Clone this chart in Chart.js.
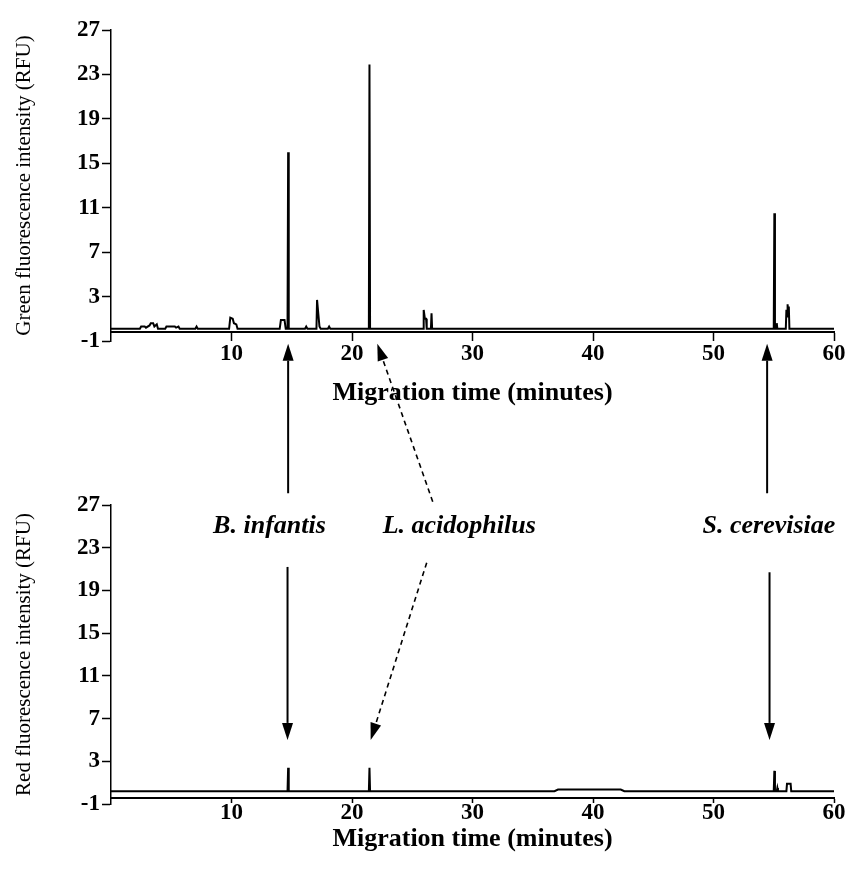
<!DOCTYPE html>
<html>
<head>
<meta charset="utf-8">
<script src="https://cdn.jsdelivr.net/npm/chart.js@4.4.1/dist/chart.umd.min.js"></script>
<style>
  html, body { margin: 0; padding: 0; background: #fff; }
  #wrap { position: relative; width: 849px; height: 877px; overflow: hidden; }
  #greenChart { position: absolute; left: 0; top: 0; }
  #redChart { position: absolute; left: 0; top: 340px; }
</style>
</head>
<body>
<div id="wrap">
  <canvas id="greenChart" width="849" height="430"></canvas>
  <canvas id="redChart" width="849" height="537"></canvas>
</div>
<script>
// green trace (minutes / RFU)
const greenTime = [
  0, 2.4, 2.5, 2.8, 2.9, 3.2, 3.3, 3.5, 3.6, 3.8, 3.9,
  4.5, 4.6, 5.3, 5.4, 5.6, 5.7,
  7.0, 7.1, 7.2,
  9.8, 9.9, 10.1, 10.2, 10.4, 10.5,
  14.0, 14.1, 14.4, 14.5, 14.65, 14.7, 14.75,
  16.1, 16.2, 16.3,
  17.05, 17.1, 17.2, 17.3, 17.4,
  18.0, 18.1, 18.2,
  21.4, 21.45, 21.5,
  25.9, 25.95, 26.05, 26.15, 26.2,
  26.55, 26.6, 26.65,
  55.0, 55.05, 55.1, 55.2, 55.25, 55.3,
  56.0, 56.05, 56.1, 56.15, 56.2, 56.25, 56.3, 60
];
const greenRFU = [
  0.1, 0.1, 0.3, 0.3, 0.2, 0.4, 0.6, 0.6, 0.3, 0.5, 0.1,
  0.1, 0.3, 0.3, 0.2, 0.3, 0.1,
  0.1, 0.3, 0.1,
  0.1, 1.1, 1.0, 0.6, 0.5, 0.1,
  0.1, 0.9, 0.9, 0.1, 0.1, 16.0, 0.1,
  0.1, 0.3, 0.1,
  0.1, 2.7, 1.5, 0.3, 0.1,
  0.1, 0.3, 0.1,
  0.1, 23.9, 0.1,
  0.1, 1.8, 1.0, 1.0, 0.1,
  0.1, 1.5, 0.1,
  0.1, 10.5, 0.1, 0.1, 0.6, 0.1,
  0.1, 1.8, 1.2, 2.3, 1.5, 2.1, 0.1, 0.1
];

// red trace, lower panel
const redTime = [
  0, 14.65, 14.7, 14.75,
  21.4, 21.45, 21.5,
  36.8, 37.1, 42.3, 42.6,
  55.0, 55.05, 55.1, 55.25, 55.3, 55.35,
  56.05, 56.1, 56.25, 56.4, 56.45, 60
];
const redRFU = [
  0.2, 0.2, 2.4, 0.2,
  0.2, 2.4, 0.2,
  0.2, 0.35, 0.35, 0.2,
  0.2, 2.1, 0.2, 0.2, 0.5, 0.2,
  0.2, 0.9, 0.9, 0.9, 0.2, 0.2
];

const xTicks = [10, 20, 30, 40, 50, 60];

// species labels and the arrows pointing at their peaks (minutes, red-panel RFU)
const species = ["B. infantis", "L. acidophilus", "S. cerevisiae"];
const speciesAt = [13.15, 28.9, 54.6];
const arrows = [
  { x1: 14.7, y1: 28.1, x2: 14.7, y2: 42.1, dashed: false },
  { x1: 14.65, y1: 21.2, x2: 14.65, y2: 5.0, dashed: false },
  { x1: 26.7, y1: 27.3, x2: 22.1, y2: 42.1, dashed: true },
  { x1: 26.2, y1: 21.6, x2: 21.55, y2: 5.0, dashed: true },
  { x1: 54.45, y1: 28.1, x2: 54.45, y2: 42.1, dashed: false },
  { x1: 54.65, y1: 20.7, x2: 54.65, y2: 5.0, dashed: false }
];

const serif = '"Liberation Serif", "Times New Roman", serif';
const tickFont = { family: serif, size: 23, weight: 'bold' };
const xTitleFont = { family: serif, size: 26, weight: 'bold' };
const yTitleFont = { family: serif, size: 21, weight: 'normal' };

function drawArrow(ctx, x1, y1, x2, y2, dashed) {
  const ang = Math.atan2(y2 - y1, x2 - x1);
  const head = 17, half = 5.5;
  const bx = x2 - head * Math.cos(ang), by = y2 - head * Math.sin(ang);
  ctx.setLineDash(dashed ? [5, 4] : []);
  ctx.lineWidth = dashed ? 1.6 : 2;
  ctx.beginPath();
  ctx.moveTo(x1, y1);
  ctx.lineTo(bx, by);
  ctx.stroke();
  ctx.setLineDash([]);
  ctx.beginPath();
  ctx.moveTo(x2, y2);
  ctx.lineTo(bx + half * Math.sin(ang), by - half * Math.cos(ang));
  ctx.lineTo(bx - half * Math.sin(ang), by + half * Math.cos(ang));
  ctx.closePath();
  ctx.fill();
}

const arrowPlugin = {
  id: 'arrows',
  afterDraw(chart) {
    const { ctx, scales: { x, y } } = chart;
    ctx.save();
    ctx.strokeStyle = '#000';
    ctx.fillStyle = '#000';
    arrows.forEach(a => drawArrow(ctx, x.getPixelForValue(a.x1), y.getPixelForValue(a.y1),
      x.getPixelForValue(a.x2), y.getPixelForValue(a.y2), a.dashed));
    ctx.font = 'italic bold 26px ' + serif;
    ctx.textAlign = 'center';
    ctx.textBaseline = 'middle';
    species.forEach((s, i) => ctx.fillText(s, x.getPixelForValue(speciesAt[i]), y.getPixelForValue(25)));
    ctx.restore();
  }
};

function traceChart(id, time, rfu, yTitle, o) {
  return new Chart(document.getElementById(id), {
    type: 'line',
    data: {
      datasets: [{
        data: time.map((t, i) => ({ x: t, y: rfu[i] })),
        borderColor: '#000', borderWidth: 2, pointRadius: 0, tension: 0
      }]
    },
    options: {
      responsive: false,
      animation: false,
      layout: { padding: { left: 0, right: 15, top: o.padTop, bottom: o.padBottom } },
      plugins: { legend: { display: false }, tooltip: { enabled: false } },
      scales: {
        x: {
          type: 'linear', min: 0, max: 60,
          position: { y: o.axisAt },
          border: { display: true, color: '#000', width: 2 },
          grid: {
            drawOnChartArea: false, tickLength: o.xTick, tickWidth: 1.5,
            tickColor: c => (c.tick && c.tick.value === 0) ? 'rgba(0,0,0,0)' : '#000'
          },
          afterBuildTicks: s => { s.ticks = [0].concat(xTicks).map(v => ({ value: v })); },
          ticks: { color: '#000', font: tickFont, padding: o.xPad, maxRotation: 0,
                   callback: v => v === 0 ? '' : v },
          title: { display: true, text: 'Migration time (minutes)', color: '#000',
                   font: xTitleFont, padding: { top: o.titlePad, bottom: 0 } }
        },
        y: {
          min: -1, max: 27,
          afterFit: s => { s.width = 111; },
          border: { display: true, color: '#000', width: 1.5 },
          grid: { drawOnChartArea: false, tickLength: 9, tickWidth: 1.5, tickColor: '#000' },
          ticks: { stepSize: 4, color: '#000', font: tickFont, padding: 2 },
          title: { display: true, text: yTitle, color: '#000', font: yTitleFont,
                   padding: { top: 12, bottom: 0 } }
        }
      }
    },
    plugins: o.plugins || []
  });
}

traceChart('greenChart', greenTime, greenRFU, 'Green fluorescence intensity (RFU)',
  { padTop: 30, padBottom: 89, axisAt: -0.2, xTick: 8, xPad: 0, titlePad: 10 });
traceChart('redChart', redTime, redRFU, 'Red fluorescence intensity (RFU)',
  { padTop: 165, padBottom: 73, axisAt: -0.4, xTick: 4, xPad: -2, titlePad: -2, plugins: [arrowPlugin] });
</script>
</body>
</html>
